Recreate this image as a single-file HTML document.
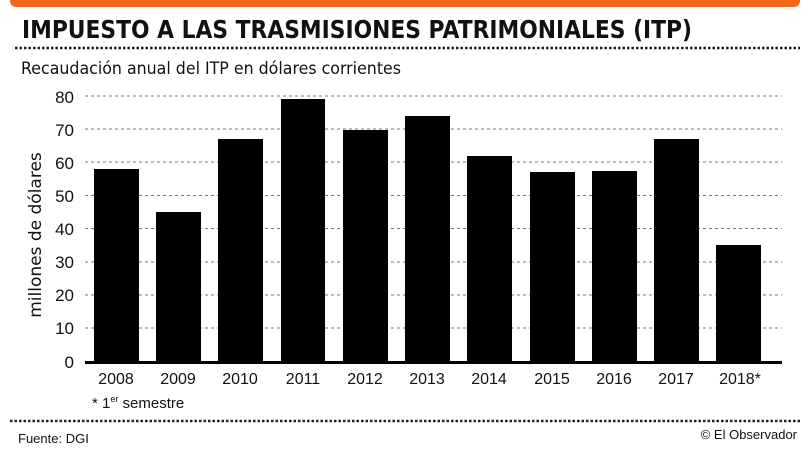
<!DOCTYPE html>
<html><head><meta charset="utf-8"><style>
html,body{margin:0;padding:0;background:#fff;}
svg{display:block;}
text{font-family:"Liberation Sans","DejaVu Sans",sans-serif;fill:#111;}
</style></head><body>
<svg width="809" height="455" viewBox="0 0 809 455" xmlns="http://www.w3.org/2000/svg">
<rect x="10" y="-6" width="790" height="13" rx="6" fill="#f26b1d"/>
<text x="22" y="38" font-size="25" font-weight="bold" style="font-family:'DejaVu Sans','Liberation Sans',sans-serif" textLength="670" lengthAdjust="spacingAndGlyphs">IMPUESTO A LAS TRASMISIONES PATRIMONIALES (ITP)</text>
<line x1="15" y1="48" x2="800" y2="48" stroke="#222" stroke-width="2.5" stroke-dasharray="2.5 2"/>
<text x="21" y="74" font-size="17" style="font-family:'DejaVu Sans','Liberation Sans',sans-serif" textLength="380" lengthAdjust="spacingAndGlyphs">Recaudación anual del ITP en dólares corrientes</text>
<g stroke="#777" stroke-width="1" stroke-dasharray="3 3">
<line x1="85" y1="96" x2="782" y2="96"/><line x1="85" y1="129" x2="782" y2="129"/>
<line x1="85" y1="162" x2="782" y2="162"/><line x1="85" y1="195.5" x2="782" y2="195.5"/>
<line x1="85" y1="228.5" x2="782" y2="228.5"/><line x1="85" y1="262" x2="782" y2="262"/>
<line x1="85" y1="295" x2="782" y2="295"/><line x1="85" y1="328" x2="782" y2="328"/>
</g>
<g font-size="17" text-anchor="end" style="font-family:'DejaVu Sans','Liberation Sans',sans-serif">
<text x="74" y="103">80</text><text x="74" y="136">70</text><text x="74" y="169">60</text>
<text x="74" y="202">50</text><text x="74" y="235">40</text><text x="74" y="268">30</text>
<text x="74" y="301">20</text><text x="74" y="334">10</text><text x="74" y="368">0</text>
</g>
<text transform="translate(41,235) rotate(-90)" font-size="17" text-anchor="middle" style="font-family:'DejaVu Sans','Liberation Sans',sans-serif">millones de dólares</text>
<g fill="#000">
<rect x="94" y="169" width="45" height="193"/>
<rect x="156" y="212" width="45" height="150"/>
<rect x="218" y="139" width="45" height="223"/>
<rect x="281" y="99" width="44" height="263"/>
<rect x="343" y="130" width="45" height="232"/>
<rect x="405" y="116" width="45" height="246"/>
<rect x="467" y="156" width="45" height="206"/>
<rect x="530" y="172" width="45" height="190"/>
<rect x="592" y="171" width="45" height="191"/>
<rect x="654" y="139" width="45" height="223"/>
<rect x="716" y="245" width="45" height="117"/>
</g>
<rect x="85" y="361" width="697" height="3" fill="#000"/>
<g font-size="16" text-anchor="middle" style="font-family:'Liberation Sans Narrow','Liberation Sans',sans-serif">
<text x="116" y="384">2008</text><text x="178" y="384">2009</text><text x="240" y="384">2010</text>
<text x="303" y="384">2011</text><text x="365" y="384">2012</text><text x="427" y="384">2013</text>
<text x="489" y="384">2014</text><text x="552" y="384">2015</text><text x="614" y="384">2016</text>
<text x="676" y="384">2017</text><text x="740" y="384">2018*</text>
</g>
<text x="92" y="408" font-size="15" style="font-family:'Liberation Sans Narrow','Liberation Sans',sans-serif">* 1<tspan font-size="9" dy="-6">er</tspan><tspan dy="6"> semestre</tspan></text>
<line x1="10" y1="421" x2="800" y2="421" stroke="#222" stroke-width="2.5" stroke-dasharray="2.5 2"/>
<text x="18" y="443" font-size="13" style="font-family:'Liberation Sans Narrow','Liberation Sans',sans-serif">Fuente: DGI</text>
<text x="797" y="439" font-size="13" text-anchor="end" style="font-family:'Liberation Sans Narrow','Liberation Sans',sans-serif">© El Observador</text>
</svg>
</body></html>
